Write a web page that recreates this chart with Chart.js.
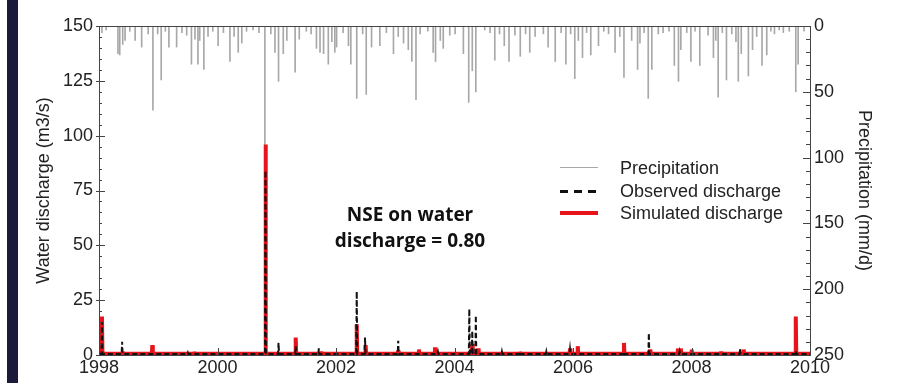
<!DOCTYPE html>
<html>
<head>
<meta charset="utf-8">
<script src="https://cdn.jsdelivr.net/npm/chart.js@4/dist/chart.umd.min.js"></script>
<style>
  html, body { margin: 0; padding: 0; background: #fff; }
  #wrap { position: relative; width: 900px; height: 383px; overflow: hidden; font-family: "Liberation Sans", Arial, sans-serif; }
  #band { position: absolute; left: 7px; top: 0; width: 11px; height: 383px; background: #1b1a38; }
  canvas { position: absolute; left: 0; top: 0; }
  .lg { position: absolute; left: 620px; font-size: 18px; color: #222; line-height: 20px; }
  .sw { position: absolute; left: 560px; width: 38px; }
  .nse { position: absolute; left: 310px; width: 200px; text-align: center; font-family: "Open Sans", sans-serif; font-weight: bold; font-size: 19px; line-height: 26px; color: #111; }
</style>
</head>
<body>
<div id="wrap">
  <div id="band"></div>
  <canvas id="chart" width="900" height="383"></canvas>
  <div class="sw" style="top:167px; border-top:1px solid #aaa;"></div>
  <div class="sw" style="top:190px; height:3px; background: repeating-linear-gradient(90deg, #111 0 8px, transparent 8px 14px);"></div>
  <div class="sw" style="top:211px; height:4px; background:#e8141b;"></div>
  <div class="lg" style="top:158px;">Precipitation</div>
  <div class="lg" style="top:181px;">Observed discharge</div>
  <div class="lg" style="top:203px;">Simulated discharge</div>
  <div class="nse" style="top:201px;">NSE on water<br>discharge = 0.80</div>
</div>
<script>
// precipitation events (decimal year, mm/d)
const precipDates = [
  1998.05, 1998.12, 1998.32, 1998.35, 1998.40, 1998.44, 1998.52, 1998.61, 1998.72, 1998.83,
  1998.91, 1998.99, 1999.05, 1999.12, 1999.18, 1999.31, 1999.40, 1999.48, 1999.56, 1999.62,
  1999.67, 1999.70, 1999.77, 1999.84, 1999.92, 2000.01, 2000.10, 2000.21, 2000.28, 2000.35,
  2000.41, 2000.49, 2000.60, 2000.70, 2000.80, 2000.90, 2000.97, 2001.03, 2001.11, 2001.17,
  2001.31, 2001.38, 2001.50, 2001.58, 2001.67, 2001.73, 2001.79, 2001.87, 2001.93, 2001.98,
  2002.01, 2002.12, 2002.21, 2002.25, 2002.35, 2002.45, 2002.51, 2002.60, 2002.74, 2002.85,
  2002.97, 2003.05, 2003.14, 2003.22, 2003.28, 2003.35, 2003.42, 2003.55, 2003.64, 2003.68,
  2003.76, 2003.81, 2003.92, 2004.01, 2004.15, 2004.24, 2004.30, 2004.36, 2004.51, 2004.60,
  2004.68, 2004.76, 2004.84, 2004.92, 2005.02, 2005.11, 2005.20, 2005.27, 2005.36, 2005.50,
  2005.58, 2005.70, 2005.80, 2005.88, 2005.96, 2006.03, 2006.09, 2006.16, 2006.23, 2006.30,
  2006.43, 2006.52, 2006.60, 2006.71, 2006.79, 2006.86, 2006.99, 2007.09, 2007.13, 2007.20,
  2007.27, 2007.33, 2007.44, 2007.52, 2007.62, 2007.71, 2007.78, 2007.82, 2007.92, 2007.99,
  2008.06, 2008.14, 2008.28, 2008.37, 2008.41, 2008.45, 2008.52, 2008.59, 2008.68, 2008.75,
  2008.79, 2008.84, 2008.96, 2009.03, 2009.10, 2009.19, 2009.27, 2009.34, 2009.40, 2009.48,
  2009.55, 2009.65, 2009.76, 2009.80, 2009.90
];
const precipMm = [
  5, 3, 21, 22, 14, 11, 4, 11, 16, 6,
  64, 6, 41, 4, 16, 16, 5, 7, 29, 10,
  29, 11, 33, 8, 4, 15, 5, 27, 8, 20,
  13, 4, 3, 5, 240, 6, 20, 42, 21, 11,
  35, 10, 4, 6, 17, 20, 21, 29, 12, 20,
  16, 5, 15, 29, 55, 6, 52, 16, 15, 5,
  21, 8, 13, 18, 27, 56, 6, 4, 20, 27,
  11, 17, 7, 6, 21, 58, 34, 50, 3, 5,
  26, 6, 15, 27, 7, 23, 6, 20, 8, 6,
  16, 27, 5, 29, 6, 40, 11, 24, 5, 22,
  15, 4, 6, 20, 8, 39, 11, 33, 13, 5,
  55, 33, 6, 5, 4, 30, 42, 18, 5, 27,
  4, 30, 7, 24, 11, 54, 5, 41, 6, 12,
  42, 21, 38, 18, 8, 30, 22, 4, 6, 3,
  5, 4, 50, 29, 4
];

// discharge peaks (decimal year, m3/s)
const obsDates = [1998.05, 1998.39, 1999.50, 2000.81, 2001.03, 2001.32, 2001.71, 2002.35, 2002.49, 2003.05,
  2003.72, 2004.25, 2004.30, 2004.36, 2004.80, 2005.10, 2005.55, 2005.95, 2006.86, 2007.28, 2007.80, 2008.82, 2009.76];
const obsPeaks = [15, 6, 1, 84, 5.6, 4, 3, 29, 8, 6.5,
  1.5, 21, 11, 18, 1.5, 1.5, 1.5, 2.5, 1.5, 10, 1.5, 3, 2];

const simDates = [1998.05, 1998.40, 1998.90, 1999.60, 2000.30, 2000.81, 2001.32, 2001.75, 2002.35, 2002.50,
  2003.05, 2003.40, 2003.67, 2004.30, 2004.40, 2005.10, 2005.95, 2006.08, 2006.86, 2007.30,
  2007.77, 2007.82, 2008.00, 2008.50, 2008.88, 2009.76];
const simPeaks = [17.5, 1.5, 4.5, 1.5, 1, 96, 8, 1.5, 14, 4.5,
  2, 2.5, 3.5, 5, 3, 1.5, 3, 4, 5.5, 2.5,
  3, 3, 2.5, 1.5, 2.5, 17.5];

const yearTicks = [1998, 2000, 2002, 2004, 2006, 2008, 2010];

function spikes(dates, peaks, base) {
  const pts = [{x: 1998, y: base}];
  dates.forEach((d, i) => {
    pts.push({x: d - 0.008, y: base});
    pts.push({x: d, y: peaks[i]});
    pts.push({x: d + 0.008, y: base});
  });
  pts.push({x: 2010, y: base});
  return pts;
}

const precipData = precipDates.map((d, i) => ({x: d, y: precipMm[i]}));

const frameTicks = {
  id: 'frameTicks',
  afterDatasetsDraw(chart) {
    const {ctx, chartArea: a, scales} = chart;
    ctx.save();
    ctx.strokeStyle = '#444';
    ctx.lineWidth = 1;
    ctx.strokeRect(Math.round(a.left) + 0.5, Math.round(a.top) + 0.5,
      Math.round(a.right - a.left), Math.round(a.bottom - a.top));
    ctx.beginPath();
    for (let v = 0; v <= 150; v += 5) {
      const y = Math.round(scales.y.getPixelForValue(v)) + 0.5;
      const major = v % 25 === 0;
      ctx.moveTo(a.left - (major ? 3 : 0), y);
      ctx.lineTo(a.left + (major ? 6 : 3), y);
    }
    for (let v = 0; v <= 250; v += 10) {
      const y = Math.round(scales.yP.getPixelForValue(v)) + 0.5;
      const major = v % 50 === 0;
      ctx.moveTo(a.right, y);
      ctx.lineTo(a.right - (major ? 7 : 4), y);
    }
    yearTicks.forEach(t => {
      const x = Math.round(scales.x.getPixelForValue(t)) + 0.5;
      ctx.moveTo(x, a.bottom);
      ctx.lineTo(x, a.bottom - 7);
    });
    ctx.stroke();
    ctx.restore();
  }
};

const font = {family: '"Liberation Sans", Arial, sans-serif', size: 18};

new Chart(document.getElementById('chart'), {
  type: 'line',
  data: {
    datasets: [
      {
        label: 'Observed discharge',
        data: spikes(obsDates, obsPeaks, 0.4),
        yAxisID: 'y',
        borderColor: '#111',
        borderWidth: 2,
        borderDash: [5, 3],
        pointRadius: 0,
        tension: 0,
        order: 0
      },
      {
        label: 'Simulated discharge',
        data: spikes(simDates, simPeaks, 0.6),
        yAxisID: 'y',
        borderColor: '#e8141b',
        borderWidth: 4,
        borderJoinStyle: 'bevel',
        pointRadius: 0,
        tension: 0,
        order: 1
      },
      {
        type: 'bar',
        label: 'Precipitation',
        data: precipData,
        yAxisID: 'yP',
        backgroundColor: '#a8a8a8',
        barThickness: 1,
        order: 2
      }
    ]
  },
  options: {
    responsive: false,
    animation: false,
    layout: { padding: { left: 33, right: 25, top: 26, bottom: 0 } },
    plugins: { legend: { display: false }, tooltip: { enabled: false } },
    scales: {
      x: {
        type: 'linear',
        min: 1998,
        max: 2010,
        offset: false,
        afterBuildTicks: s => { s.ticks = yearTicks.map(v => ({value: v})); },
        ticks: { color: '#222', font, padding: 2, maxRotation: 0, autoSkip: false, callback: v => String(v) },
        grid: { display: false, drawTicks: false },
        border: { display: false },
        afterFit: s => { s.height = 28; }
      },
      y: {
        position: 'left',
        min: 0,
        max: 150,
        ticks: { stepSize: 25, color: '#222', font, padding: 6 },
        grid: { display: false, drawTicks: false },
        border: { display: false },
        title: { display: true, text: 'Water discharge (m3/s)', color: '#222', font, padding: 0 },
        afterFit: s => { s.width = 66; }
      },
      yP: {
        position: 'right',
        reverse: true,
        min: 0,
        max: 250,
        ticks: { stepSize: 50, color: '#222', font, padding: 4 },
        grid: { display: false, drawTicks: false },
        border: { display: false },
        title: { display: true, text: 'Precipitation (mm/d)', color: '#222', font, padding: 0 },
        afterFit: s => { s.width = 65; }
      }
    }
  },
  plugins: [frameTicks]
});
</script>
</body>
</html>
